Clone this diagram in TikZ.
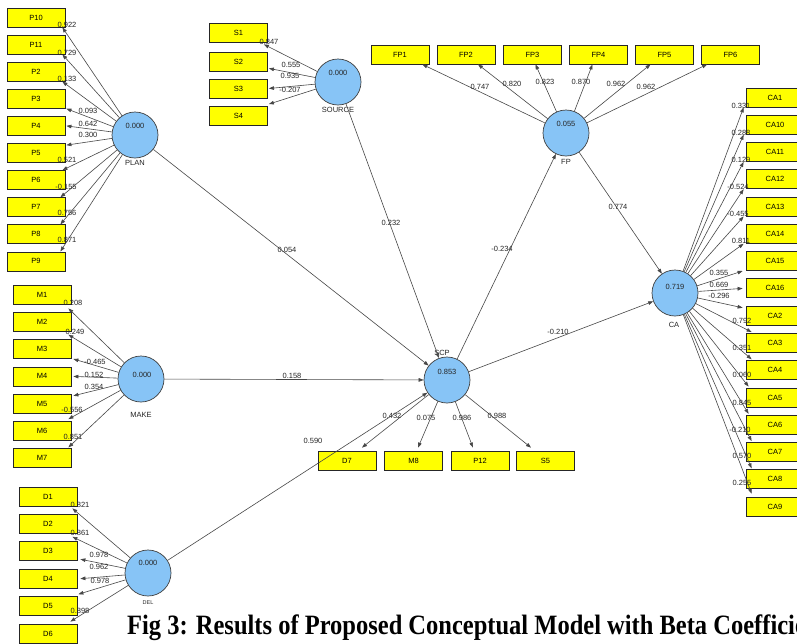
\documentclass[tikz,border=0pt]{standalone}
\usepackage{fontspec}
\setmainfont{Liberation Serif}
\newfontfamily\labfont{Liberation Sans}
\usetikzlibrary{arrows.meta}
\definecolor{lvblue}{RGB}{135,196,246}
\definecolor{indyellow}{RGB}{255,255,0}
\tikzset{
  lv/.style={circle, draw=black!75, line width=0.7pt, fill=lvblue, minimum size=46pt, inner sep=0pt},
  ind/.style={rectangle, draw=black!85, line width=0.8pt, fill=indyellow, minimum width=58pt,
              minimum height=19pt, inner sep=0pt, font=\labfont\fontsize{7.5}{8}\selectfont},
  lbl/.style={font=\labfont\fontsize{7.5}{8}\selectfont, inner sep=0pt, text=black!85},
  smalllbl/.style={font=\labfont\fontsize{5.5}{6}\selectfont, inner sep=0pt, text=black!85},
  link/.style={draw=black!72, line width=0.6pt, -{Triangle[length=5pt,width=3.6pt]}},
  captionstyle/.style={font=\bfseries\fontsize{28}{30}\selectfont, inner sep=0pt, anchor=base west}
}
\begin{document}
\begin{tikzpicture}[x=1pt,y=-1pt]
\clip (0,0) rectangle (797,643);
\fill[white] (0,0) rectangle (797,643);

% ---------- latent variables ----------
\node[lv] (plan)   at (135,135) {};
\node[lv] (source) at (338,82)  {};
\node[lv] (fp)     at (566,133) {};
\node[lv] (ca)     at (675,293) {};
\node[lv] (make)   at (141,379) {};
\node[lv] (del)    at (148,573) {};
\node[lv] (scp)    at (447,380) {};

\node[lbl] (plan-v)   at (135,126) {0.000};
\node[lbl] (plan-n)   at (135,163) {PLAN};
\node[lbl] (source-v) at (338,73)  {0.000};
\node[lbl] (source-n) at (338,110) {SOURCE};
\node[lbl] (fp-v)     at (566,124) {0.055};
\node[lbl] (fp-n)     at (566,162) {FP};
\node[lbl] (ca-v)     at (675,287) {0.719};
\node[lbl] (ca-n)     at (674,325) {CA};
\node[lbl] (make-v)   at (142,375) {0.000};
\node[lbl] (make-n)   at (141,415) {MAKE};
\node[lbl] (del-v)    at (148,563) {0.000};
\node[smalllbl] (del-n) at (148,603) {DEL};
\node[lbl] (scp-v)    at (447,372) {0.853};
\node[lbl] (scp-n)    at (442,353) {SCP};

% ---------- indicators ----------
\foreach \nm/\txt/\yy in {p10/P10/17.5, p11/P11/44.6, p2/P2/71.7, p3/P3/98.8, p4/P4/125.9,
                         p5/P5/153, p6/P6/180.1, p7/P7/207.2, p8/P8/234.3, p9/P9/261.4}
  \node[ind] (\nm) at (36,\yy) {\txt};
\foreach \nm/\txt/\yy in {s1/S1/32.5, s2/S2/61.5, s3/S3/88.5, s4/S4/116}
  \node[ind] (\nm) at (238.5,\yy) {\txt};
\foreach \nm/\txt/\xx in {fp1/FP1/400, fp2/FP2/466, fp3/FP3/532.5, fp4/FP4/598.5, fp5/FP5/664.5, fp6/FP6/730.5}
  \node[ind] (\nm) at (\xx,54.5) {\txt};
\foreach \nm/\txt [count=\i from 0] in {ca1/CA1, ca10/CA10, ca11/CA11, ca12/CA12, ca13/CA13, ca14/CA14,
                                        ca15/CA15, ca16/CA16, ca2/CA2, ca3/CA3, ca4/CA4, ca5/CA5,
                                        ca6/CA6, ca7/CA7, ca8/CA8, ca9/CA9}
  \node[ind] (\nm) at (775,97.5+27.27*\i) {\txt};
\foreach \nm/\txt [count=\i from 0] in {m1/M1, m2/M2, m3/M3, m4/M4, m5/M5, m6/M6, m7/M7}
  \node[ind] (\nm) at (42,294.5+27.3*\i) {\txt};
\foreach \nm/\txt [count=\i from 0] in {d1/D1, d2/D2, d3/D3, d4/D4, d5/D5, d6/D6}
  \node[ind] (\nm) at (48,496.5+27.4*\i) {\txt};
\foreach \nm/\txt/\xx in {d7/D7/347, m8/M8/413.5, p12/P12/480, s5/S5/545.5}
  \node[ind] (\nm) at (\xx,460.5) {\txt};

% ---------- PLAN loadings ----------
\draw[link] (plan) -- ([xshift=-3pt]p10.south east) node[lbl] (l-p10) at (67,25) {0.922};
\draw[link] (plan) -- ([xshift=-3pt]p11.south east) node[lbl] (l-p11) at (67,53) {0.729};
\draw[link] (plan) -- ([xshift=-3pt]p2.south east)  node[lbl] (l-p2)  at (67,79) {0.133};
\draw[link] (plan) -- ([xshift=1pt]p3.south east)   node[lbl] (l-p3)  at (88,111) {0.093};
\draw[link] (plan) -- ([xshift=1pt]p4.east)         node[lbl] (l-p4)  at (88,124) {0.642};
\draw[link] (plan) -- ([xshift=1pt,yshift=-2pt]p5.north east) node[lbl] (l-p5) at (88,135) {0.300};
\draw[link] (plan) -- ([xshift=-3pt]p6.north east)  node[lbl] (l-p6)  at (67,160) {0.521};
\draw[link] (plan) -- ([xshift=-5pt]p7.north east)  node[lbl] (l-p7)  at (66,187) {-0.155};
\draw[link] (plan) -- ([xshift=-5pt]p8.north east)  node[lbl] (l-p8)  at (67,213) {0.756};
\draw[link] (plan) -- ([xshift=-5pt]p9.north east)  node[lbl] (l-p9)  at (67,240) {0.871};

% ---------- SOURCE loadings ----------
\draw[link] (source) -- ([xshift=-4pt,yshift=-2pt]s1.south east) node[lbl] (l-s1) at (269,42) {0.847};
\draw[link] (source) -- ([xshift=1pt,yshift=3pt]s2.south east)   node[lbl] (l-s2) at (291,65) {0.555};
\draw[link] (source) -- ([xshift=1pt]s3.east)                    node[lbl] (l-s3) at (290,76) {0.935};
\draw[link] (source) -- ([xshift=1pt,yshift=2pt]s4.north east)   node[lbl] (l-s4) at (290,90) {-0.207};

% ---------- FP loadings ----------
\draw[link] (fp) -- ([xshift=-7pt]fp1.south east) node[lbl] (l-fp1) at (480,87) {0.747};
\draw[link] (fp) -- ([xshift=12pt]fp2.south)      node[lbl] (l-fp2) at (512,84) {0.820};
\draw[link] (fp) -- ([xshift=3pt]fp3.south)       node[lbl] (l-fp3) at (545,82) {0.823};
\draw[link] (fp) -- ([xshift=-6pt]fp4.south)      node[lbl] (l-fp4) at (581,82) {0.870};
\draw[link] (fp) -- ([xshift=-14pt]fp5.south)     node[lbl] (l-fp5) at (616,84) {0.962};
\draw[link] (fp) -- ([xshift=6pt]fp6.south west)  node[lbl] (l-fp6) at (646,87) {0.962};

% ---------- CA loadings ----------
\draw[link] (ca) -- ([xshift=-2pt]ca1.south west)  node[lbl] (l-ca1)  at (741,106) {0.331};
\draw[link] (ca) -- ([xshift=-2pt]ca10.south west) node[lbl] (l-ca10) at (741,133) {0.288};
\draw[link] (ca) -- ([xshift=-2pt]ca11.south west) node[lbl] (l-ca11) at (741,160) {0.129};
\draw[link] (ca) -- ([xshift=-2pt]ca12.south west) node[lbl] (l-ca12) at (738,187) {-0.524};
\draw[link] (ca) -- ([xshift=-2pt]ca13.south west) node[lbl] (l-ca13) at (738,214) {-0.455};
\draw[link] (ca) -- ([xshift=-2pt]ca14.south west) node[lbl] (l-ca14) at (741,241) {0.811};
\draw[link] (ca) -- ([xshift=-3pt]ca15.south west) node[lbl] (l-ca15) at (719,273) {0.355};
\draw[link] (ca) -- ([xshift=-3pt]ca16.west)       node[lbl] (l-ca16) at (719,285) {0.669};
\draw[link] (ca) -- ([xshift=-3pt,yshift=-2pt]ca2.north west) node[lbl] (l-ca2) at (719,296) {-0.296};
\draw[link] (ca) -- ([xshift=6pt,yshift=1pt]ca3.north west)  node[lbl] (l-ca3) at (742,321) {0.792};
\draw[link] (ca) -- ([xshift=6pt,yshift=1pt]ca4.north west)  node[lbl] (l-ca4) at (742,348) {0.351};
\draw[link] (ca) -- ([xshift=3pt,yshift=1pt]ca5.north west)  node[lbl] (l-ca5) at (742,375) {0.060};
\draw[link] (ca) -- ([xshift=3pt,yshift=1pt]ca6.north west)  node[lbl] (l-ca6) at (742,403) {0.845};
\draw[link] (ca) -- ([xshift=6pt,yshift=1pt]ca7.north west)  node[lbl] (l-ca7) at (740,430) {-0.210};
\draw[link] (ca) -- ([xshift=6pt,yshift=1pt]ca8.north west)  node[lbl] (l-ca8) at (742,456) {0.570};
\draw[link] (ca) -- ([xshift=6pt,yshift=3pt]ca9.north west)  node[lbl] (l-ca9) at (742,483) {0.255};

% ---------- MAKE loadings ----------
\draw[link] (make) -- ([xshift=-3pt,yshift=-4pt]m1.south east) node[lbl] (l-m1) at (73,303) {0.208};
\draw[link] (make) -- ([xshift=-3pt,yshift=-3pt]m2.south east) node[lbl] (l-m2) at (75,332) {0.249};
\draw[link] (make) -- ([xshift=2pt]m3.south east)              node[lbl] (l-m3) at (95,362) {-0.465};
\draw[link] (make) -- ([xshift=2pt]m4.east)                    node[lbl] (l-m4) at (94,375) {0.152};
\draw[link] (make) -- ([xshift=2pt,yshift=-2pt]m5.north east)  node[lbl] (l-m5) at (94,387) {0.354};
\draw[link] (make) -- ([xshift=-3pt,yshift=2pt]m6.north east)  node[lbl] (l-m6) at (72,410) {-0.556};
\draw[link] (make) -- ([xshift=-3pt,yshift=1pt]m7.north east)  node[lbl] (l-m7) at (73,437) {0.851};

% ---------- DEL loadings ----------
\draw[link] (del) -- ([xshift=-5pt,yshift=-2pt]d1.south east) node[lbl] (l-d1) at (80,505) {0.821};
\draw[link] (del) -- ([xshift=-5pt,yshift=-3pt]d2.south east) node[lbl] (l-d2) at (80,533) {0.861};
\draw[link] (del) -- ([xshift=3pt,yshift=2pt]d3.south east)   node[lbl] (l-d3) at (99,555) {0.978};
\draw[link] (del) -- ([xshift=3pt]d4.east)                    node[lbl] (l-d4) at (99,567) {0.962};
\draw[link] (del) -- ([xshift=1pt,yshift=2pt]d5.north east)   node[lbl] (l-d5) at (100,581) {0.978};
\draw[link] (del) -- ([xshift=-7pt,yshift=2pt]d6.north east)  node[lbl] (l-d6) at (80,611) {0.898};

% ---------- SCP loadings ----------
\draw[link] (scp) -- ([xshift=15pt,yshift=3pt]d7.north)  node[lbl] (l-d7)  at (392,416) {0.432};
\draw[link] (scp) -- ([xshift=4.5pt,yshift=3pt]m8.north) node[lbl] (l-m8)  at (426,418) {0.075};
\draw[link] (scp) -- ([xshift=-7pt,yshift=3pt]p12.north) node[lbl] (l-p12) at (462,418) {0.986};
\draw[link] (scp) -- ([xshift=-14.5pt,yshift=3pt]s5.north) node[lbl] (l-s5) at (497,416) {0.988};

% ---------- structural paths ----------
\draw[link] (plan)   -- (scp) node[lbl] (b-plan)   at (287,250) {0.054};
\draw[link] (source) -- (scp) node[lbl] (b-source) at (391,223) {0.232};
\draw[link] (make)   -- (scp) node[lbl] (b-make)   at (292,376) {0.158};
\draw[link] (del)    -- (scp) node[lbl] (b-del)    at (313,441) {0.590};
\draw[link] (scp)    -- (fp)  node[lbl] (b-fp)     at (502,249) {-0.234};
\draw[link] (scp)    -- (ca)  node[lbl] (b-ca)     at (558,332) {-0.210};
\draw[link] (fp)     -- (ca)  node[lbl] (b-fpca)   at (618,207) {0.774};

% ---------- caption ----------
\node[captionstyle] (caption) at (127,634)
  {\scalebox{0.875}[1]{Fig 3: Results of Proposed Conceptual Model with Beta Coefficients}};
\end{tikzpicture}
\end{document}
